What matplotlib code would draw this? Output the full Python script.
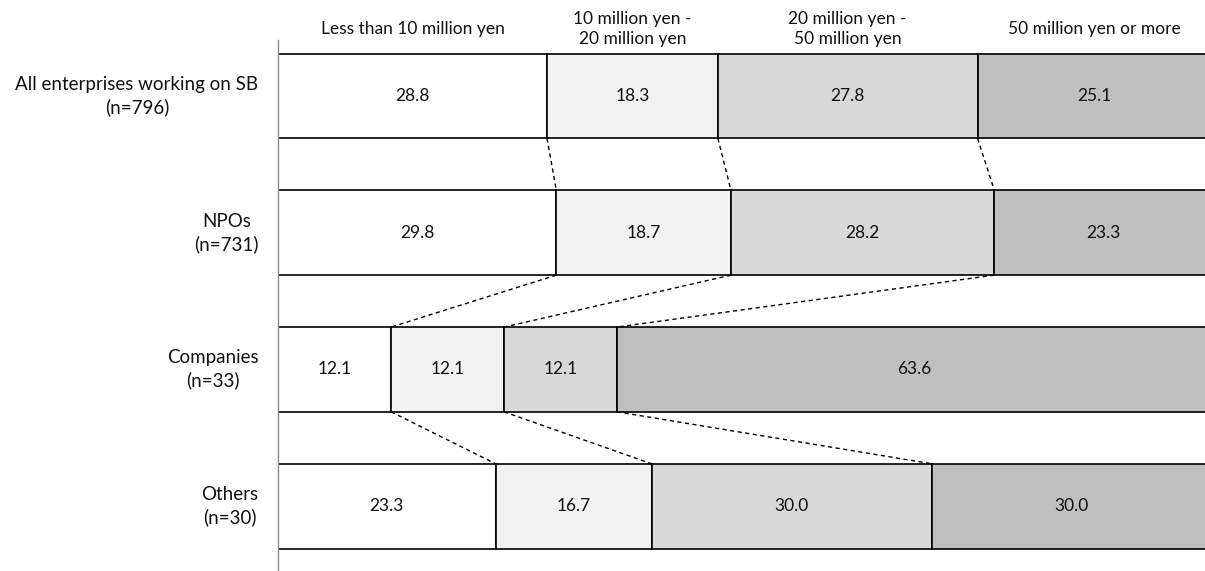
import matplotlib
matplotlib.use("Agg")
import matplotlib.pyplot as plt
import numpy as np

# Share of enterprises by annual revenue bracket (%)
groups = ["All enterprises working on SB\n(n=796)", "NPOs\n(n=731)",
          "Companies\n(n=33)", "Others\n(n=30)"]
brackets = ["Less than 10 million yen", "10 million yen -\n20 million yen",
            "20 million yen -\n50 million yen", "50 million yen or more"]
less_10m = [28.8, 29.8, 12.1, 23.3]
from_10m_to_20m = [18.3, 18.7, 12.1, 16.7]
from_20m_to_50m = [27.8, 28.2, 12.1, 30.0]
over_50m = [25.1, 23.3, 63.6, 30.0]

series = [less_10m, from_10m_to_20m, from_20m_to_50m, over_50m]
colors = ["#FFFFFF", "#F2F2F2", "#D9D9D9", "#BFBFBF"]

plt.rcParams["font.family"] = ["Lato", "DejaVu Sans"]

fig = plt.figure(figsize=(12.05, 5.71), dpi=100)
W, H = 1205, 571
# axes spans pixel x 278..1212 and y 40..574.5
ax = fig.add_axes([278 / W, -3.5 / H, 934 / W, 534.5 / H])

bar_h = 0.62
y = np.arange(len(groups))
left = np.zeros(len(groups))
for vals, col in zip(series, colors):
    vals = np.array(vals)
    ax.barh(y, vals, left=left, height=bar_h, color=col,
            edgecolor="black", linewidth=1.2, zorder=2)
    for yi, l, v in zip(y, left, vals):
        ax.text(l + v / 2, yi, f"{v:.1f}", ha="center", va="center",
                fontsize=12.5, color="#111111", zorder=3)
    left = left + vals

# dashed connectors between cumulative boundaries of adjacent bars
cum = np.cumsum(np.array(series), axis=0)
for i in range(len(groups) - 1):
    for k in range(3):
        ax.plot([cum[k, i], cum[k, i + 1]],
                [i + bar_h / 2, i + 1 - bar_h / 2],
                ls=(0, (3, 2.5)), color="black", lw=1.0, zorder=1)

# bracket headings above the first bar
for k, name in enumerate(brackets):
    start = cum[k - 1, 0] if k > 0 else 0
    ax.text(start + series[k][0] / 2, -0.49, name, ha="center", va="center",
            fontsize=12.5, color="#111111", clip_on=False, linespacing=1.35)

ax.set_xlim(0, 100)
ax.set_ylim(3.5, -0.41)
ax.set_xticks([])
ax.set_yticks(y - 0.03)
ax.set_yticklabels(groups, fontsize=13.5, color="#111111",
                   multialignment="center", linespacing=1.35)
ax.tick_params(axis="y", length=0, pad=14)
for s in ["top", "right", "bottom"]:
    ax.spines[s].set_visible(False)
ax.spines["left"].set_color("#8c8c8c")
ax.spines["left"].set_linewidth(1.0)

fig.savefig("out.png", dpi=100)
